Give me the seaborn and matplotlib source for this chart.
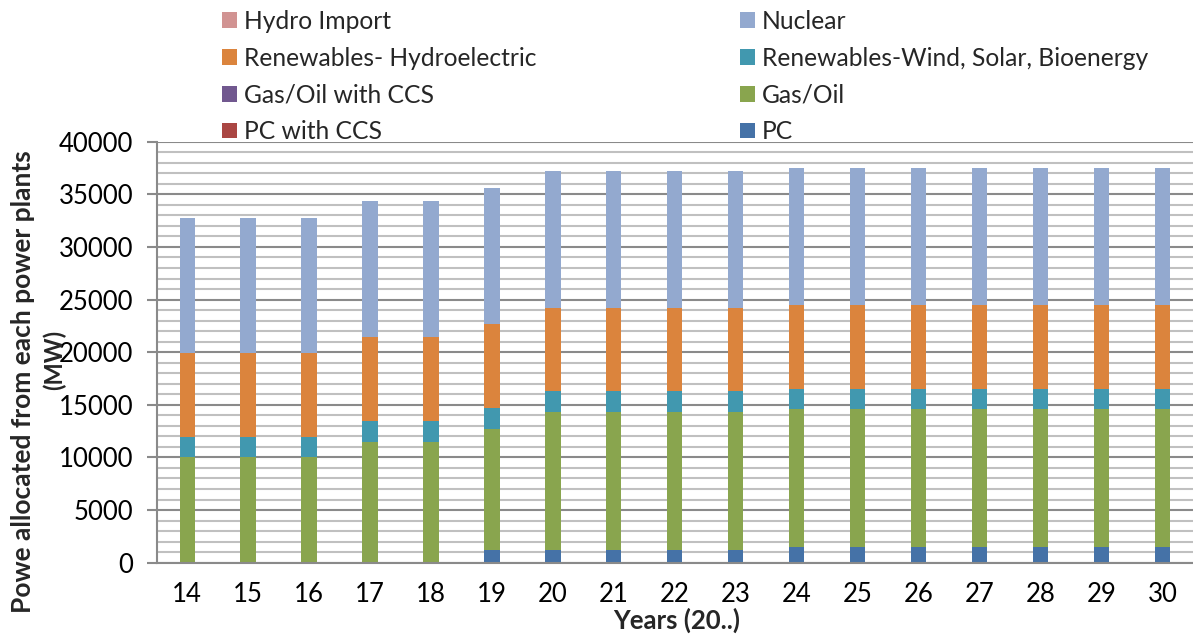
import numpy as np
import pandas as pd
import matplotlib
matplotlib.use("Agg")
import matplotlib.pyplot as plt
from matplotlib.patches import Patch
from matplotlib.ticker import MultipleLocator
import seaborn as sns

# Years (20..) and installed capacity per source, MW
years = ["14", "15", "16", "17", "18", "19", "20", "21", "22", "23",
         "24", "25", "26", "27", "28", "29", "30"]
pc = [0, 0, 0, 0, 0, 1240, 1240, 1240, 1240, 1240,
      1520, 1520, 1520, 1520, 1520, 1520, 1520]
pc_ccs = [0] * 17
gas_oil = [10000, 10000, 10000, 11500, 11500, 11500, 13080, 13080, 13080, 13080,
           13050, 13050, 13050, 13050, 13050, 13050, 13050]
gas_oil_ccs = [0] * 17
wind_solar_bio = [1930, 1930, 1930, 1960, 1960, 1970, 1970, 1970, 1970, 1970,
                  1960, 1960, 1960, 1960, 1960, 1960, 1960]
hydroelectric = [7950, 7950, 7950, 7990, 7990, 8000, 7940, 7940, 7940, 7940,
                 7980, 7980, 7980, 7980, 7980, 7980, 7980]
nuclear = [12900, 12900, 12900, 12920, 12920, 12920, 12990, 12990, 12990, 12990,
           12960, 12960, 12960, 12960, 12960, 12960, 12960]
hydro_import = [0] * 17

series = [
    ("PC", pc, "#4572A7"),
    ("PC with CCS", pc_ccs, "#AA4643"),
    ("Gas/Oil", gas_oil, "#89A54E"),
    ("Gas/Oil with CCS", gas_oil_ccs, "#71588F"),
    ("Renewables-Wind, Solar, Bioenergy", wind_solar_bio, "#4198AF"),
    ("Renewables- Hydroelectric", hydroelectric, "#DB843D"),
    ("Nuclear", nuclear, "#93A9CF"),
    ("Hydro Import", hydro_import, "#D19392"),
]

sns.set_theme(style="white")
plt.rcParams["font.family"] = ["Lato", "DejaVu Sans"]

fig = plt.figure(figsize=(11.93, 6.34), dpi=100)
ax = fig.add_axes([0.1313, 0.1125, 0.8687, 0.664])

# stacked bars: draw cumulative totals from the top layer down
vals = np.array([s[1] for s in series], dtype=float)
cum = np.cumsum(vals, axis=0)
for i in range(len(series) - 1, -1, -1):
    name, _, color = series[i]
    df = pd.DataFrame({"year": years, "MW": cum[i]})
    sns.barplot(data=df, x="year", y="MW", color=color, width=0.25,
                saturation=1, edgecolor="none", linewidth=0, ax=ax)

ax.set_xlim(-0.5, len(years) - 0.5)
ax.set_ylim(0, 40000)
ax.yaxis.set_major_locator(MultipleLocator(5000))
ax.yaxis.set_minor_locator(MultipleLocator(1000))
ax.grid(axis="y", which="minor", color="#C0C0C0", linewidth=1.5)
ax.grid(axis="y", which="major", color="#8A8A8A", linewidth=1.5)
ax.set_axisbelow(True)

for side in ("top", "right"):
    ax.spines[side].set_visible(False)
for side in ("left", "bottom"):
    ax.spines[side].set_color("#8A8A8A")
    ax.spines[side].set_linewidth(1.5)

ax.tick_params(axis="y", which="major", left=True, length=7, width=1.5,
               color="#8A8A8A", labelsize=18.5, pad=10, labelcolor="black")
ax.tick_params(axis="y", which="minor", left=False)
ax.tick_params(axis="x", length=0, labelsize=18.5, pad=14, labelcolor="black")
ax.set_xlabel("")
ax.set_ylabel("")

fig.text(0.567, 0.022, "Years (20..)", ha="center", va="center",
         fontsize=18.5, fontweight="bold")
fig.text(0.019, 1 - 150 / 634, "Powe allocated from each power plants",
         rotation=90, ha="center", va="top", fontsize=19, fontweight="bold")
fig.text(0.046, 1 - 360 / 634, "(MW)", rotation=90, ha="center",
         va="center", fontsize=17, fontweight="bold")

# two-column legend above the plot
colors = {s[0]: s[2] for s in series}
left_col = ["Hydro Import", "Renewables- Hydroelectric", "Gas/Oil with CCS", "PC with CCS"]
right_col = ["Nuclear", "Renewables-Wind, Solar, Bioenergy", "Gas/Oil", "PC"]
for names, x0 in ((left_col, 0.178), (right_col, 0.612)):
    handles = [Patch(facecolor=colors[n], edgecolor="none") for n in names]
    fig.legend(handles, names, loc="upper left", bbox_to_anchor=(x0, 1.0),
               frameon=False, fontsize=17.7, handlelength=0.6, handleheight=0.6,
               handletextpad=0.3, labelspacing=0.56, borderaxespad=0)

fig.savefig("out.png", dpi=100)
